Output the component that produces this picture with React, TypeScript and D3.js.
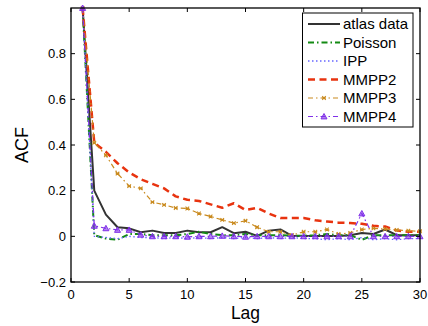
import React from "react";
import * as d3 from "d3";

const lags = [1,2,3,4,5,6,7,8,9,10,11,12,13,14,15,16,17,18,19,20,21,22,23,24,25,26,27,28,29,30];
const atlas = [1.0,0.20,0.095,0.04,0.035,0.018,0.025,0.015,0.015,0.025,0.018,0.018,0.04,0.014,0.02,0.002,0.025,0.03,0.002,0.002,0.002,0.002,0.002,0.005,0.015,0.01,0.03,0.005,0.005,0.005];
const poisson = [1.0,0.005,-0.01,-0.015,0.01,0.01,0.005,0.005,0.005,0.01,0.02,0.01,0.005,0.005,0.01,0.005,0.005,0.005,0.003,0.003,0.005,0.01,0.005,0.005,-0.015,0.005,0.005,0.005,0.005,0.005];
const ipp = [1.0,0.0,-0.005,-0.01,0.0,-0.005,-0.005,-0.01,-0.005,-0.01,-0.005,-0.01,-0.005,-0.01,-0.005,-0.01,-0.005,-0.01,-0.005,-0.01,-0.01,-0.015,-0.01,-0.015,-0.005,-0.015,-0.01,-0.015,-0.01,-0.01];
const mmpp2 = [1.0,0.41,0.37,0.32,0.28,0.25,0.23,0.21,0.175,0.16,0.155,0.14,0.125,0.145,0.115,0.125,0.10,0.08,0.08,0.08,0.07,0.065,0.06,0.058,0.055,0.046,0.043,0.026,0.02,0.02];
const mmpp3 = [1.0,0.41,0.355,0.275,0.22,0.21,0.15,0.138,0.124,0.122,0.1,0.087,0.072,0.058,0.068,0.04,0.02,0.02,0.005,0.02,0.02,0.03,0.01,0.015,0.03,0.035,0.032,0.028,0.025,0.022];
const mmpp4 = [1.0,0.046,0.035,0.028,0.028,0.007,0.0,0.0,0.0,-0.002,0.0,0.0,0.002,0.0,-0.002,0.0,0.0,0.0,0.0,0.0,0.0,0.0,0.0,0.0,0.1,0.0,0.0,0.0,0.0,0.0];

const xTicks = [0,5,10,15,20,25,30];
const yTicks = [-0.2,0,0.2,0.4,0.6,0.8];
const seriesNames = ["atlas data","Poisson","IPP","MMPP2","MMPP3","MMPP4"];

const styles = [
  { color: "#333333", width: 2, dash: "", marker: "" },
  { color: "#138a13", width: 2, dash: "6,3,1.5,3", marker: "" },
  { color: "#6666ff", width: 1.3, dash: "1.5,2.5", marker: "" },
  { color: "#e8330f", width: 2.5, dash: "7,4.5", marker: "" },
  { color: "#c98a1e", width: 1.2, dash: "5,3,1.5,3", marker: "x" },
  { color: "#8030e8", width: 1.2, dash: "5,3,1.5,3", marker: "tri" },
];

const font = "'Liberation Sans', Arial, Helvetica, sans-serif";

export default function App() {
  const W = 428, H = 326;
  const left = 71, right = 420, top = 8, bottom = 282;
  const x = d3.scaleLinear().domain([0, 30]).range([left, right]);
  const y = d3.scaleLinear().domain([-0.2, 1.0]).range([bottom, top]);
  const data = [atlas, poisson, ipp, mmpp2, mmpp3, mmpp4];
  const line = d3.line<number>().x((_, i) => x(lags[i])).y((v) => y(v));

  const marker = (type: string, cx: number, cy: number, color: string, key: string) => {
    if (type === "x") {
      const s = 1.8;
      return (
        <path key={key} d={`M${cx - s},${cy - s}L${cx + s},${cy + s}M${cx - s},${cy + s}L${cx + s},${cy - s}M${cx - s},${cy}L${cx + s},${cy}`} stroke={color} strokeWidth={1.1} fill="none" />
      );
    }
    if (type === "tri") {
      const s = 3;
      return (
        <path key={key} d={`M${cx},${cy - s}L${cx + s},${cy + s * 0.8}L${cx - s},${cy + s * 0.8}Z`} stroke={color} strokeWidth={1} fill={color} fillOpacity={0.6} />
      );
    }
    return null;
  };

  const legX = 302.5, legY = 13, legW = 110.5, legH = 114;
  const rowY = (i: number) => 24 + i * 18.5;

  return (
    <svg width={W} height={H} style={{ position: "absolute", left: 0, top: 0, background: "#fff" }} fontFamily={font}>
      <rect x={0} y={0} width={W} height={H} fill="#fff" />
      {data.map((d, si) => (
        <g key={si}>
          <path d={line(d) || ""} fill="none" stroke={styles[si].color} strokeWidth={styles[si].width} strokeDasharray={styles[si].dash} strokeLinejoin="round" />
          {styles[si].marker && d.map((v, i) => marker(styles[si].marker, x(lags[i]), y(v), styles[si].color, `${si}-${i}`))}
        </g>
      ))}
      <rect x={left} y={top} width={right - left} height={bottom - top} fill="none" stroke="#000" strokeWidth={1.3} />
      {xTicks.map((t) => (
        <g key={"xt" + t}>
          <line x1={x(t)} x2={x(t)} y1={bottom} y2={bottom - 4} stroke="#000" strokeWidth={1} />
          <line x1={x(t)} x2={x(t)} y1={top} y2={top + 4} stroke="#000" strokeWidth={1} />
          <text x={x(t)} y={299} textAnchor="middle" fontSize={13} fill="#000">{t}</text>
        </g>
      ))}
      {yTicks.map((t) => (
        <g key={"yt" + t}>
          <line x1={left} x2={left + 4} y1={y(t)} y2={y(t)} stroke="#000" strokeWidth={1} />
          <line x1={right} x2={right - 4} y1={y(t)} y2={y(t)} stroke="#000" strokeWidth={1} />
          <text x={66} y={y(t) + 4.5} textAnchor="end" fontSize={13} fill="#000">{t < 0 ? "\u2212" + Math.abs(t).toFixed(1) : t === 0 ? "0" : t.toFixed(1)}</text>
        </g>
      ))}
      <text x={(left + right) / 2} y={319} textAnchor="middle" fontSize={17.5} fill="#000">Lag</text>
      <text transform={`translate(28,${(top + bottom) / 2}) rotate(-90)`} textAnchor="middle" fontSize={18} fill="#000">ACF</text>
      <rect x={legX} y={legY} width={legW} height={legH} fill="#fff" stroke="#000" strokeWidth={1} />
      {seriesNames.map((n, i) => (
        <g key={n}>
          <line x1={308} x2={340} y1={rowY(i)} y2={rowY(i)} stroke={styles[i].color} strokeWidth={styles[i].width} strokeDasharray={styles[i].dash} />
          {styles[i].marker && marker(styles[i].marker, 324, rowY(i), styles[i].color, "lm" + i)}
          <text x={343} y={rowY(i) + 5.3} fontSize={15} fill="#000">{n}</text>
        </g>
      ))}
    </svg>
  );
}
